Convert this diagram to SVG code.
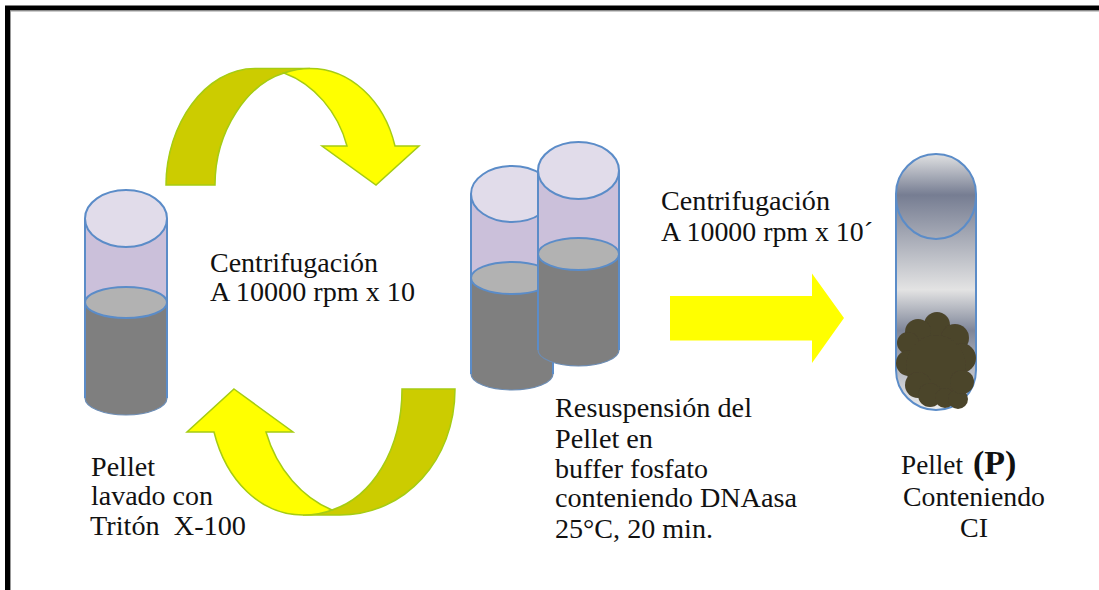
<svg xmlns="http://www.w3.org/2000/svg" width="1099" height="590" viewBox="0 0 1099 590">
  <style>
    text { font-family: "Liberation Serif", "Times New Roman", serif; font-size: 26.500px; fill: #111; }
    .bend { fill: #cccc00; stroke: #a6cc12; stroke-width: 1.5; stroke-linejoin: miter; }
    .head { fill: #ffff00; stroke: #a6cc12; stroke-width: 1.5; stroke-linejoin: miter; }
    .wall { stroke: #5b8cc8; stroke-width: 2; }
    .edge { fill: none; stroke: #5b8cc8; stroke-width: 2; }
    .base { fill: none; stroke: #6c8db5; stroke-width: 1.2; }
    .air { fill: #cbc0da; }
    .rim { fill: #e1dcea; }
    .liquid { fill: #7f7f7f; }
    .surface { fill: #b2b2b2; }
  </style>
  <defs>
    <linearGradient id="tubeShade" x1="0" y1="0" x2="0" y2="1">
      <stop offset="0" stop-color="#e0e1e2"/>
      <stop offset="0.16" stop-color="#767d92"/>
      <stop offset="0.53" stop-color="#e3e3e3"/>
      <stop offset="0.69" stop-color="#7f8699"/>
      <stop offset="1" stop-color="#eeeeee"/>
    </linearGradient>
    <filter id="soft" x="-5%" y="-5%" width="110%" height="110%"><feGaussianBlur stdDeviation="0.7"/></filter>
  </defs>

  <!-- frame: top and left edges only -->
  <path d="M7.500 590V8H1099" fill="none" stroke="#000" stroke-width="5"/>
  <path d="M10.500 590V11H1099" fill="none" stroke="#999" stroke-width="1"/>

  <g id="connectors">
    <g id="loop-top">
      <path class="bend" d="M166 185C166 125 205 68.500 255 68.500H310L284 73C248 84 215 130 215 185Z"/>
      <path class="head" d="M284 73C293 70 302 68.500 310 68.500C350 68.500 384 100 395 146H419L376 185L322 146H347C338 112 314 84 284 73Z"/>
    </g>
    <g id="loop-bottom">
      <path class="bend" d="M402 389H455C455 460 405 515 340 515H303L332 510C372 497 402 450 402 389Z"/>
      <path class="head" d="M234 389L293 432H266C277 470 303 498 332 510C322 514 312 515 303 515C260 515 226 480 214 432H187Z"/>
    </g>
    <path id="step-arrow" fill="#ffff00" d="M670 296H812V273.500L844 318L812 363V340.500H670Z"/>
  </g>

  <g id="tube-washed">
    <path class="air" d="M85 218.500V302.500H167V218.500Z"/>
    <path class="liquid" d="M85 302.500V398A41 17 0 0 0 167 398V302.500Z"/>
    <path class="edge" d="M85 398V218.500M167 218.500V398"/>
    <path class="base" d="M85 398A41 17 0 0 0 167 398"/>
    <ellipse class="surface wall" cx="126" cy="302.500" rx="41" ry="15.500"/>
    <ellipse class="rim wall" cx="126" cy="218.500" rx="41" ry="28.500"/>
  </g>

  <g id="tube-back">
    <path class="air" d="M471 194V278H553V194Z"/>
    <path class="liquid" d="M471 278V374A41 16 0 0 0 553 374V278Z"/>
    <path class="edge" d="M471 374V194M553 194V374"/>
    <path class="base" d="M471 374A41 16 0 0 0 553 374"/>
    <ellipse class="surface wall" cx="512" cy="278" rx="41" ry="16"/>
    <ellipse class="rim wall" cx="512" cy="194" rx="41" ry="28"/>
  </g>
  <g id="tube-front">
    <path class="air" d="M538 170.500V254H619V170.500Z"/>
    <path class="liquid" d="M538 254V350A40.500 16 0 0 0 619 350V254Z"/>
    <path class="edge" d="M538 350V170.500M619 170.500V350"/>
    <path class="base" d="M538 350A40.500 16 0 0 0 619 350"/>
    <ellipse class="surface wall" cx="578.500" cy="254" rx="40.500" ry="16"/>
    <ellipse class="rim wall" cx="578.500" cy="170.500" rx="40.500" ry="28.500"/>
  </g>

  <g id="tube-pellet">
    <path fill="url(#tubeShade)" class="wall" d="M896 194A40 40 0 0 1 976 194V370A40 40 0 0 1 896 370Z"/>
    <path fill="none" class="wall" d="M896 196.500A40 42.500 0 0 0 976 196.500"/>
    <g fill="#4b442c" filter="url(#soft)">
      <circle cx="937" cy="325" r="13"/>
      <circle cx="918" cy="332" r="13"/>
      <circle cx="955" cy="338" r="14"/>
      <circle cx="908" cy="343" r="11"/>
      <circle cx="909" cy="363" r="13"/>
      <circle cx="961" cy="358" r="15"/>
      <ellipse cx="936" cy="367" rx="30" ry="32"/>
      <circle cx="918" cy="385" r="13"/>
      <circle cx="930" cy="395" r="12"/>
      <circle cx="945" cy="398" r="10"/>
      <circle cx="958" cy="399" r="10"/>
      <circle cx="962" cy="382" r="12"/>
    </g>
  </g>

  <g id="labels">
    <text x="210" y="272" textLength="168" lengthAdjust="spacingAndGlyphs">Centrifugación</text>
    <text x="210" y="301" textLength="205" lengthAdjust="spacingAndGlyphs">A 10000 rpm x 10</text>
    <text x="661" y="210" textLength="169" lengthAdjust="spacingAndGlyphs">Centrifugación</text>
    <text x="661" y="241" textLength="212" lengthAdjust="spacingAndGlyphs">A 10000 rpm x 10´</text>
    <text x="555" y="417" textLength="197" lengthAdjust="spacingAndGlyphs">Resuspensión del</text>
    <text x="555" y="448" textLength="98" lengthAdjust="spacingAndGlyphs">Pellet en</text>
    <text x="555" y="478" textLength="153" lengthAdjust="spacingAndGlyphs">buffer fosfato</text>
    <text x="555" y="507" textLength="242" lengthAdjust="spacingAndGlyphs">conteniendo DNAasa</text>
    <text x="555" y="538" textLength="158" lengthAdjust="spacingAndGlyphs">25°C, 20 min.</text>
    <text x="91" y="476" textLength="64" lengthAdjust="spacingAndGlyphs">Pellet</text>
    <text x="91" y="505" textLength="122" lengthAdjust="spacingAndGlyphs">lavado con</text>
    <text x="90" y="535" textLength="156" lengthAdjust="spacingAndGlyphs" xml:space="preserve">Tritón  X-100</text>
    <text x="901" y="474" textLength="62" lengthAdjust="spacingAndGlyphs">Pellet</text>
    <text x="973" y="474" font-weight="bold" style="font-size:34px">(P)</text>
    <text x="903" y="506" textLength="142" lengthAdjust="spacingAndGlyphs">Conteniendo</text>
    <text x="960" y="537" textLength="28" lengthAdjust="spacingAndGlyphs">CI</text>
  </g>
</svg>
